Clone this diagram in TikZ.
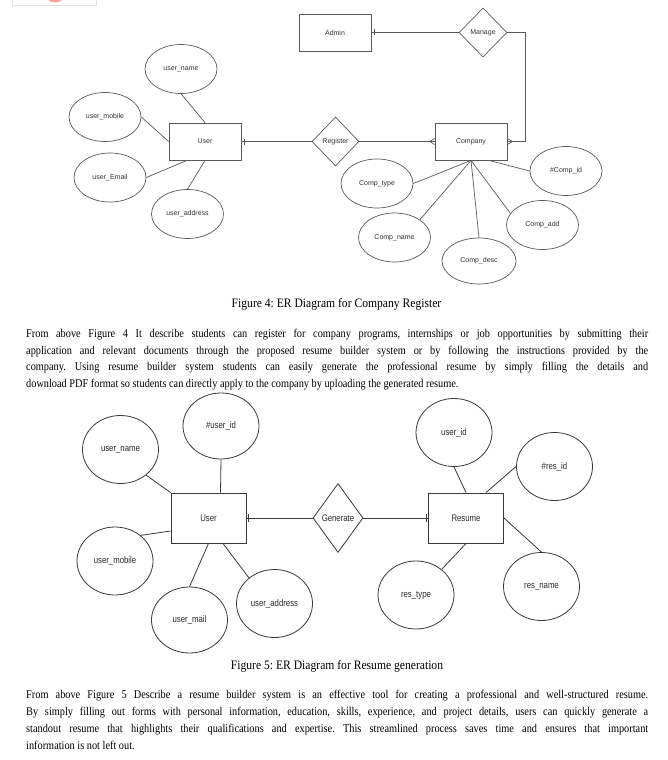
\documentclass[tikz,border=0pt]{standalone}
\usepackage{fontspec}
\setmainfont{Liberation Serif}
\newfontfamily\lsans{Liberation Sans}
\newfontfamily\lsansn[FakeStretch=0.82]{Liberation Sans}
\newfontfamily\lserif[FakeStretch=0.87]{Liberation Serif}
\newfontfamily\lserifcap[FakeStretch=0.9]{Liberation Serif}
\usetikzlibrary{shapes.geometric,calc}
\definecolor{lineA}{HTML}{5A5A5A}
\definecolor{txtA}{HTML}{333333}
\definecolor{lineB}{HTML}{3A3A3A}
\definecolor{txtB}{HTML}{2A2A2A}
\definecolor{logored}{HTML}{F4A49C}
\frenchspacing
\begin{document}
\begin{tikzpicture}[x=1pt,y=-1pt,
  attrA/.style={ellipse, draw=lineA, line width=0.7pt, inner sep=0pt,
    minimum width=72pt, minimum height=49pt,
    font=\lsans\fontsize{7}{8}\selectfont, text=txtA},
  entA/.style={rectangle, draw=lineA, line width=0.8pt, inner sep=0pt,
    minimum width=72pt, minimum height=37pt,
    font=\lsans\fontsize{7}{8}\selectfont, text=txtA},
  relA/.style={diamond, draw=lineA, line width=0.7pt, inner sep=0pt,
    minimum width=48pt, minimum height=49pt,
    font=\lsans\fontsize{7}{8}\selectfont, text=txtA},
  linkA/.style={draw=lineA, line width=0.7pt},
  attrB/.style={ellipse, draw=lineB, line width=0.8pt, inner sep=0pt,
    minimum width=76pt, minimum height=68pt,
    font=\lsansn\fontsize{9.5}{11}\selectfont, text=txtB},
  entB/.style={rectangle, draw=lineB, line width=0.9pt, inner sep=0pt,
    minimum width=75pt, minimum height=50pt,
    font=\lsansn\fontsize{9.5}{11}\selectfont, text=txtB},
  relB/.style={diamond, draw=lineB, line width=0.8pt, inner sep=0pt,
    minimum width=50pt, minimum height=69pt,
    font=\lsansn\fontsize{9.5}{11}\selectfont, text=txtB},
  linkB/.style={draw=lineB, line width=0.8pt},
  bodytext/.style={anchor=base west, inner sep=0pt,
    font=\lserif\fontsize{11.85}{14}\selectfont, text=black},
  captext/.style={anchor=base, inner sep=0pt,
    font=\lserifcap\fontsize{12.9}{14}\selectfont, text=black}
]
\useasboundingbox (0,0) rectangle (668,760);
\fill[white] (0,0) rectangle (668,760);

% logo fragment at the top edge
\draw[gray!20, line width=0.6pt] (12,0) -- (12,5) -- (96,5) -- (96,0);
\begin{scope}
  \clip (12,0) rectangle (96,4.5);
  \fill[logored] (55,-6) ellipse [x radius=10pt, y radius=8.5pt];
\end{scope}

% ---------------- Figure 4 ----------------
\node[attrA] (uname) at (181,69) {user\_name};
\node[attrA] (umob) at (105,117) {user\_mobile};
\node[attrA] (uemail) at (110,177.5) {user\_Email};
\node[attrA] (uaddr) at (187.5,214) {user\_address};
\node[entA] (user) at (205,141.5) {User};
\node[relA, minimum width=47pt] (reg) at (335.5,141.5) {Register};
\node[entA] (comp) at (471,141.5) {Company};
\node[entA] (admin) at (335,32.5) {Admin};
\node[relA] (manage) at (483,32.5) {Manage};
\node[attrA] (ctype) at (377,183.5) {Comp\_type};
\node[attrA] (cid) at (566,171) {\#Comp\_id};
\node[attrA] (cadd) at (542.5,225) {Comp\_add};
\node[attrA] (cname) at (394.5,237.5) {Comp\_name};
\node[attrA, minimum width=74pt, minimum height=46pt] (cdesc) at (479,261) {Comp\_desc};

\draw[linkA] (uname.south) -- (user.north);
\draw[linkA] (umob.east) -- (user.west);
\draw[linkA] (uemail.east) -- ([xshift=-18pt]user.south);
\draw[linkA] (uaddr.north) -- (user.south);
\draw[linkA] (user.east) -- (reg.west);
\draw[linkA] (reg.east) -- (comp.west);
\draw[linkA] (manage.west) -- (admin.east);
\draw[linkA] (manage.east) -- ++(18,0) |- (comp.east);
\draw[linkA] (comp.south) -- (ctype.east);
\draw[linkA] (comp.south) -- (cname.35);
\draw[linkA] (comp.south) -- (cdesc.north);
\draw[linkA] (comp.south) -- (cadd.160);
\draw[linkA] ([xshift=18pt]comp.south) -- (cid.west);

% cardinality marks
\draw[linkA] ([xshift=3pt,yshift=3pt]user.east) -- ([xshift=3pt,yshift=-3pt]user.east);
\draw[linkA] ([xshift=3pt,yshift=3pt]admin.east) -- ([xshift=3pt,yshift=-3pt]admin.east);
\draw[linkA] ([xshift=-5pt]comp.west) -- ([yshift=3pt]comp.west)
             ([xshift=-5pt]comp.west) -- ([yshift=-3pt]comp.west);
\draw[linkA] ([xshift=5pt]comp.east) -- ([yshift=3pt]comp.east)
             ([xshift=5pt]comp.east) -- ([yshift=-3pt]comp.east);

\node[captext] (cap4) at (336.5,307) {Figure 4: ER Diagram for Company Register};

\node[bodytext] (p1a) at (26,337) {\makebox[622pt][s]{From above Figure 4 It describe students can register for company programs, internships or job opportunities by submitting their}};
\node[bodytext] (p1b) at (26,354) {\makebox[622pt][s]{application and relevant documents through the proposed resume builder system or by following the instructions provided by the}};
\node[bodytext] (p1c) at (26,370.5) {\makebox[622pt][s]{company. Using resume builder system students can easily generate the professional resume by simply filling the details and}};
\node[bodytext] (p1d) at (26,387) {download PDF format so students can directly apply to the company by uploading the generated resume.};

% ---------------- Figure 5 ----------------
\node[attrB, minimum height=66pt] (uid2) at (221,426) {\#user\_id};
\node[attrB] (uname2) at (120.5,449.5) {user\_name};
\node[entB] (user2) at (208.5,518) {User};
\node[attrB] (umob2) at (115,561) {user\_mobile};
\node[attrB, minimum height=66pt] (umail2) at (189.5,620) {user\_mail};
\node[attrB] (uaddr2) at (274.5,603.5) {user\_address};
\node[relB] (gen) at (338,518) {Generate};
\node[entB] (res) at (466,518) {Resume};
\node[attrB] (ruid) at (454,432.5) {user\_id};
\node[attrB] (resid) at (554.5,466.5) {\#res\_id};
\node[attrB] (rtype) at (416,595) {res\_type};
\node[attrB] (rname) at (541.5,586.5) {res\_name};

\draw[linkB] (uname2.-45) -- (user2.north west);
\draw[linkB] (uid2.south) -- ([xshift=12pt]user2.north);
\draw[linkB] (umob2.45) -- ([yshift=-13pt]user2.west);
\draw[linkB] (umail2.north) -- (user2.south);
\draw[linkB] (uaddr2.135) -- ([xshift=14.5pt]user2.south);
\draw[linkB] (user2.east) -- (gen.west);
\draw[linkB] (gen.east) -- (res.west);
\draw[linkB] (ruid.south) -- (res.north);
\draw[linkB] (resid.west) -- ([xshift=20pt]res.north);
\draw[linkB] (res.east) -- (rname.north);
\draw[linkB] (res.south) -- (rtype.45);

\draw[linkB] ([xshift=2pt,yshift=4pt]user2.east) -- ([xshift=2pt,yshift=-4pt]user2.east);
\draw[linkB] ([xshift=-2pt,yshift=4pt]res.west) -- ([xshift=-2pt,yshift=-4pt]res.west);

\node[captext] (cap5) at (337,669) {Figure 5: ER Diagram for Resume generation};

\node[bodytext] (p2a) at (26,698) {\makebox[622pt][s]{From above Figure 5 Describe a resume builder system is an effective tool for creating a professional and well-structured resume.}};
\node[bodytext] (p2b) at (26,715) {\makebox[622pt][s]{By simply filling out forms with personal information, education, skills, experience, and project details, users can quickly generate a}};
\node[bodytext] (p2c) at (26,732) {\makebox[622pt][s]{standout resume that highlights their qualifications and expertise. This streamlined process saves time and ensures that important}};
\node[bodytext] (p2d) at (26,749) {information is not left out.};
\end{tikzpicture}
\end{document}
